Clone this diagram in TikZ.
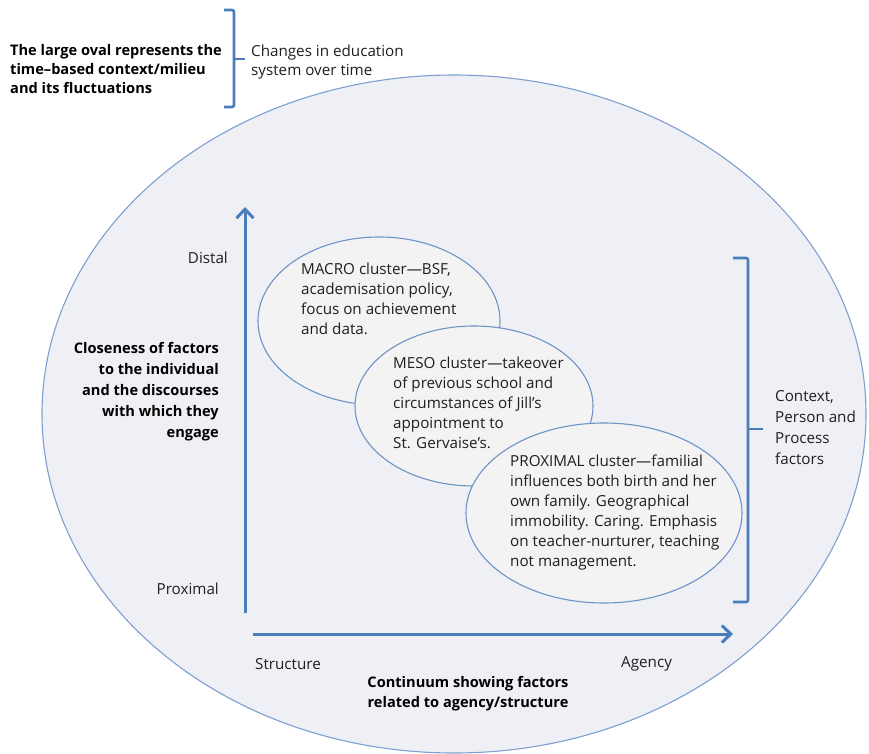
\documentclass[tikz,border=0pt]{standalone}
\usepackage{fontspec}
\setmainfont{Open Sans}
\usetikzlibrary{arrows.meta,shapes.geometric}
\definecolor{ovalfill}{HTML}{EFF0F5}
\definecolor{ovalline}{HTML}{7E9FCF}
\definecolor{blobfill}{HTML}{F3F3F3}
\definecolor{blobline}{HTML}{6E93C6}
\definecolor{axisblue}{HTML}{4A7EBB}
\tikzset{
  blob/.style={ellipse, draw=blobline, line width=1.1pt, fill=blobfill, inner sep=0pt},
  axis/.style={draw=axisblue, line width=3pt, -{Straight Barb[length=9pt,width=17pt]}},
  brk/.style={draw=axisblue, line width=2.6pt, rounded corners=2pt},
  txt/.style={font=\fontsize{15.2}{20}\selectfont, inner sep=0pt, text=black!88},
  btxt/.style={font=\fontsize{14.6}{20}\selectfont\bfseries, inner sep=0pt, text=black},
}
\begin{document}
\begin{tikzpicture}[x=1pt,y=-1pt]
\useasboundingbox (0,0) rectangle (869,754);
% large oval
\node[ellipse, draw=ovalline, line width=1.1pt, fill=ovalfill, inner sep=0pt,
      minimum width=824pt, minimum height=678pt] (oval) at (454,414) {};
% top bracket
\coordinate (tb1) at (224,10);
\coordinate (tb2) at (224,107);
\coordinate (tbm) at (245,59);
\draw[brk] (tb1) -- (234,10) -- (234,107) -- (tb2);
\draw[brk, rounded corners=0pt] (234,59) -- (tbm);
% right bracket
\coordinate (rb1) at (733,258);
\coordinate (rb2) at (733,602);
\coordinate (rbm) at (763,429);
\draw[brk] (rb1) -- (748,258) -- (748,602) -- (rb2);
\draw[brk, rounded corners=0pt] (748,429) -- (rbm);
% axes
\coordinate (vbot) at (245,613);
\coordinate (vtop) at (245,207);
\coordinate (hleft) at (253,634);
\coordinate (hright) at (733,634);
\draw[axis] (vbot) -- (vtop);
\draw[axis] (hleft) -- (hright);
% clusters
\node[blob, minimum width=242pt, minimum height=168pt] (macro) at (379,321) {};
\node[blob, minimum width=238pt, minimum height=160pt] (meso) at (474,406) {};
\node[blob, minimum width=276pt, minimum height=180pt] (prox) at (604,513) {};
\node[txt, align=left, anchor=west] (macrot) at (301,299)
  {MACRO cluster—BSF,\\academisation policy,\\focus on achievement\\and data.};
\node[txt, align=left, anchor=west] (mesot) at (393,403)
  {MESO cluster—takeover\\of previous school and\\circumstances of Jill’s\\appointment to\\St. Gervaise’s.};
\node[txt, align=left, anchor=west] (proxt) at (510,513)
  {PROXIMAL cluster—familial\\influences both birth and her\\own family. Geographical\\immobility. Caring. Emphasis\\on teacher-nurturer, teaching\\not management.};
% labels
\node[btxt, align=left, anchor=west, font=\fontsize{14.6}{19}\selectfont\bfseries] (ovalnote) at (10,69)
  {The large oval represents the\\time–based context/milieu\\and its fluctuations};
\node[txt, align=left, anchor=west, font=\fontsize{15.2}{19}\selectfont] (changes) at (251,62.5)
  {Changes in education\\system over time};
\node[txt, anchor=east] (distal) at (228,258) {Distal};
\node[txt, anchor=east] (proximal) at (219,589) {Proximal};
\node[btxt, align=right, anchor=east, font=\fontsize{14.6}{21}\selectfont\bfseries] (closeness) at (219,391.5)
  {Closeness of factors\\to the individual\\and the discourses\\with which they\\engage};
\node[txt, anchor=west] (structure) at (255,664) {Structure};
\node[txt, anchor=west] (agency) at (621,664) {Agency};
\node[btxt, align=center] (continuum) at (468,693.5)
  {Continuum showing factors\\related to agency/structure};
\node[txt, align=left, anchor=west, font=\fontsize{15.2}{21}\selectfont] (cpp) at (775,428)
  {Context,\\Person and\\Process\\factors};
\end{tikzpicture}
\end{document}
